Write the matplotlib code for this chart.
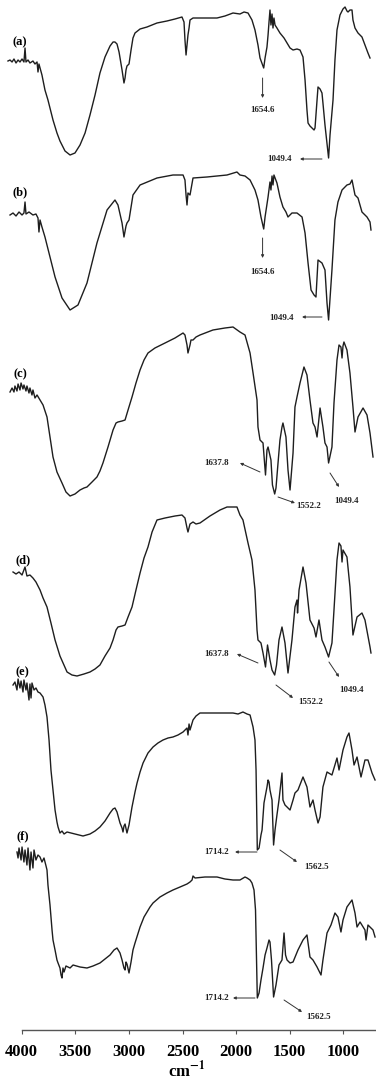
import numpy as np
import matplotlib.pyplot as plt

plt.rcParams['font.family'] = ['Liberation Serif', 'DejaVu Serif']
plt.rcParams['font.weight'] = 'bold'
plt.rcParams['mathtext.fontset'] = 'stix'

# FTIR spectra: wavenumber (cm-1) and transmittance (arbitrary units)
a_wn = [4040, 4021, 4002, 3984, 3965, 3946, 3928, 3909, 3891, 3881, 3872, 3853, 3835, 3807, 3788, 3769,
        3760, 3751, 3723, 3695, 3667, 3620, 3583, 3555, 3508, 3461, 3415, 3368, 3321, 3275, 3228, 3182,
        3135, 3088, 3060, 3042, 3023, 3004, 2976, 2958, 2948, 2939, 2930, 2911, 2892, 2874, 2855, 2808,
        2743, 2650, 2557, 2482, 2417, 2398, 2389, 2379, 2370, 2361, 2351, 2342, 2314, 2202, 2090, 2016,
        1941, 1876, 1838, 1801, 1764, 1736, 1708, 1689, 1654.6, 1642, 1624, 1614, 1605, 1596, 1587, 1577,
        1568, 1559, 1549, 1531, 1503, 1465, 1437, 1409, 1381, 1344, 1316, 1288, 1269, 1251, 1241, 1223,
        1204, 1185, 1176, 1157, 1148, 1129, 1111, 1102, 1083, 1049.4, 1036, 1008, 990, 971, 943, 915,
        896, 878, 868, 850, 831, 822, 803, 775, 738, 710, 682, 663]
a_t = [114, 115, 113, 116, 112, 115, 113, 116, 113, 127, 113, 115, 112, 114, 111, 113,
       103, 111, 100, 85, 75, 55, 42, 34, 24, 20, 22, 30, 42, 60, 80, 102,
       118, 129, 133, 133, 131, 123, 105, 92, 97, 105, 109, 111, 125, 137, 142, 146,
       148, 152, 154, 156, 158, 153, 135, 120, 130, 140, 147, 155, 157, 157, 157, 159,
       162, 161, 163, 162, 155, 145, 130, 117, 107, 117, 128, 140, 153, 165, 150, 161,
       147, 157, 150, 147, 142, 137, 132, 127, 125, 126, 125, 118, 95, 65, 52, 49,
       47, 45, 47, 75, 88, 86, 82, 72, 50, 17, 40, 75, 115, 145, 160, 166,
       168, 164, 163, 165, 165, 155, 147, 142, 138, 130, 122, 117]

b_wn = [4021, 3993, 3965, 3937, 3909, 3891, 3881, 3872, 3844, 3807, 3779, 3760, 3751, 3741, 3723, 3695,
        3648, 3601, 3536, 3461, 3387, 3303, 3210, 3116, 3042, 3014, 2976, 2958, 2939, 2930, 2911, 2874,
        2808, 2650, 2501, 2407, 2389, 2379, 2370, 2361, 2342, 2314, 2184, 1997, 1904, 1876, 1829, 1782,
        1736, 1708, 1680, 1654.6, 1642, 1614, 1596, 1587, 1577, 1568, 1559, 1531, 1503, 1475, 1447, 1428,
        1391, 1344, 1297, 1269, 1241, 1213, 1185, 1167, 1148, 1111, 1083, 1064, 1049.4, 1018, 990, 962,
        924, 878, 850, 831, 803, 775, 738, 691, 663, 654]
b_t = [115, 117, 114, 118, 115, 117, 128, 116, 118, 115, 116, 112, 98, 110, 103, 93,
       73, 53, 32, 20, 25, 47, 87, 120, 130, 125, 107, 93, 104, 107, 110, 135,
       145, 152, 155, 155, 150, 135, 125, 137, 135, 152, 153, 155, 158, 155, 154, 150,
       140, 130, 113, 101, 113, 133, 148, 140, 154, 145, 155, 147, 133, 123, 118, 113,
       117, 117, 113, 97, 67, 40, 35, 33, 70, 67, 60, 27, 10, 60, 110, 128,
       140, 145, 146, 150, 135, 132, 118, 113, 108, 100]

c_wn = [4021, 4002, 3984, 3975, 3956, 3946, 3928, 3918, 3900, 3891, 3872, 3863, 3844, 3835, 3816, 3807,
        3788, 3769, 3741, 3713, 3676, 3648, 3620, 3583, 3536, 3499, 3461, 3415, 3368, 3331, 3303, 3256,
        3210, 3182, 3154, 3107, 3060, 3032, 3014, 2976, 2948, 2920, 2883, 2846, 2808, 2771, 2734, 2669,
        2575, 2482, 2407, 2389, 2370, 2361, 2342, 2333, 2314, 2286, 2249, 2128, 2016, 1941, 1876, 1829,
        1782, 1754, 1717, 1708, 1689, 1661, 1637.8, 1624, 1614, 1587, 1573, 1552.2, 1540, 1521, 1503, 1484,
        1475, 1447, 1428, 1409, 1381, 1363, 1344, 1316, 1279, 1251, 1223, 1195, 1176, 1157, 1129, 1102,
        1083, 1064, 1049.4, 1018, 999, 971, 952, 934, 924, 915, 906, 878, 850, 822, 803, 775,
        728, 691, 663, 635]
c_t = [113, 117, 113, 119, 114, 121, 115, 122, 116, 120, 114, 119, 112, 117, 110, 115,
       107, 110, 105, 100, 88, 68, 48, 33, 22, 13, 9, 11, 15, 17, 18, 23,
       28, 34, 42, 58, 75, 82, 83, 84, 85, 95, 108, 122, 135, 145, 152, 157,
       162, 167, 172, 170, 160, 152, 160, 165, 165, 168, 170, 175, 177, 178, 173, 170,
       152, 132, 105, 78, 65, 62, 30, 55, 58, 45, 20, 11, 17, 42, 65, 78,
       82, 68, 35, 15, 52, 98, 108, 122, 138, 130, 105, 82, 78, 68, 97, 78,
       62, 58, 42, 58, 102, 145, 160, 158, 147, 159, 163, 155, 132, 98, 73, 88,
       97, 90, 72, 48]

d_wn = [3993, 3965, 3937, 3909, 3881, 3863, 3835, 3807, 3779, 3741, 3713, 3676, 3639, 3601, 3555, 3489,
        3443, 3396, 3331, 3275, 3228, 3182, 3135, 3088, 3060, 3032, 3014, 2976, 2948, 2920, 2883, 2846,
        2808, 2771, 2734, 2696, 2650, 2575, 2482, 2417, 2389, 2370, 2361, 2342, 2314, 2286, 2249, 2156,
        2062, 1997, 1904, 1876, 1848, 1801, 1764, 1736, 1717, 1708, 1680, 1661, 1637.8, 1619, 1596, 1577,
        1552.2, 1535, 1512, 1484, 1456, 1428, 1391, 1363, 1344, 1339, 1325, 1288, 1260, 1223, 1185, 1167,
        1139, 1111, 1083, 1049.4, 1018, 999, 971, 952, 934, 924, 915, 878, 850, 822, 784, 738,
        710, 663, 654]
d_t = [113, 111, 113, 110, 118, 109, 110, 107, 103, 95, 87, 78, 62, 45, 29, 13,
       10, 9, 11, 13, 16, 20, 29, 37, 45, 55, 58, 59, 60, 68, 78, 95,
       112, 127, 138, 153, 165, 167, 169, 170, 167, 157, 153, 161, 163, 161, 162, 169,
       175, 178, 178, 170, 165, 142, 125, 95, 55, 45, 42, 32, 18, 40, 25, 15,
       10, 20, 45, 58, 42, 12, 45, 78, 85, 72, 95, 118, 102, 65, 57, 48,
       65, 45, 38, 28, 42, 75, 125, 142, 139, 123, 135, 128, 98, 50, 68, 72,
       65, 38, 32]

e_wn = [3993, 3975, 3956, 3946, 3928, 3918, 3900, 3891, 3872, 3863, 3844, 3835, 3825, 3816, 3797, 3779,
        3760, 3741, 3713, 3695, 3676, 3657, 3639, 3620, 3601, 3583, 3573, 3555, 3536, 3517, 3489, 3415,
        3340, 3275, 3228, 3182, 3135, 3088, 3060, 3042, 3023, 2995, 2976, 2967, 2958, 2948, 2930, 2911,
        2883, 2855, 2836, 2808, 2780, 2734, 2687, 2641, 2594, 2547, 2501, 2454, 2407, 2370, 2361, 2351,
        2342, 2314, 2286, 2249, 2156, 2062, 1941, 1894, 1848, 1810, 1782, 1754, 1736, 1726, 1714.2, 1698,
        1680, 1670, 1652, 1624, 1614, 1605, 1596, 1577, 1562.5, 1549, 1531, 1512, 1484, 1475, 1456, 1437,
        1409, 1381, 1363, 1335, 1288, 1251, 1223, 1195, 1176, 1148, 1129, 1102, 1064, 1018, 971, 952,
        915, 878, 859, 831, 812, 784, 747, 710, 682, 644, 616]
e_t = [175, 178, 170, 181, 172, 179, 168, 180, 170, 177, 160, 176, 162, 177, 170, 172,
       168, 167, 163, 155, 143, 120, 90, 70, 50, 38, 33, 27, 29, 26, 28, 26,
       24, 26, 29, 33, 39, 47, 51, 52, 48, 37, 32, 28, 34, 36, 27, 35,
       53, 68, 77, 88, 97, 107, 113, 117, 120, 122, 123, 125, 128, 132, 125, 136,
       130, 140, 144, 147, 147, 147, 147, 146, 148, 146, 145, 133, 120, 90, 10, 12,
       25, 30, 57, 73, 80, 78, 70, 60, 15, 30, 45, 60, 87, 60, 55, 53,
       50, 60, 67, 70, 83, 73, 53, 60, 50, 37, 43, 73, 88, 85, 102, 90,
       110, 123, 127, 110, 95, 103, 83, 100, 100, 87, 80]

f_wn = [3956, 3946, 3937, 3918, 3909, 3891, 3881, 3863, 3853, 3835, 3825, 3807, 3797, 3779, 3760, 3741,
        3723, 3704, 3685, 3676, 3667, 3648, 3629, 3620, 3601, 3583, 3573, 3555, 3545, 3536, 3527, 3517,
        3499, 3461, 3433, 3368, 3303, 3247, 3182, 3135, 3088, 3051, 3023, 2995, 2976, 2958, 2948, 2939,
        2930, 2911, 2892, 2874, 2855, 2808, 2771, 2743, 2715, 2687, 2622, 2557, 2501, 2435, 2370, 2342,
        2323, 2314, 2295, 2202, 2090, 2016, 1941, 1876, 1829, 1810, 1782, 1764, 1745, 1731, 1714.2, 1698,
        1680, 1661, 1642, 1624, 1605, 1596, 1582, 1562.5, 1540, 1512, 1484, 1465, 1451, 1437, 1409, 1381,
        1335, 1288, 1251, 1223, 1195, 1157, 1120, 1102, 1064, 1027, 990, 962, 934, 915, 878, 831,
        803, 784, 756, 710, 700, 682, 635, 616]
f_t = [158, 152, 162, 150, 163, 148, 160, 145, 162, 140, 158, 142, 160, 150, 155, 153,
       148, 152, 144, 140, 125, 105, 80, 70, 60, 50, 47, 42, 35, 32, 42, 38,
       44, 42, 45, 43, 42, 44, 47, 51, 55, 60, 62, 57, 50, 42, 40, 48,
       46, 37, 48, 60, 67, 83, 93, 98, 103, 107, 113, 117, 120, 123, 126, 128,
       130, 134, 132, 133, 133, 131, 130, 130, 133, 132, 130, 127, 120, 100, 12, 17,
       30, 42, 55, 62, 70, 68, 50, 13, 25, 45, 50, 77, 55, 50, 47, 48,
       60, 70, 75, 53, 50, 43, 35, 50, 77, 85, 97, 93, 78, 90, 103, 110,
       97, 83, 88, 80, 70, 85, 80, 73]

sample_labels = ['(a)', '(b)', '(c)', '(d)', '(e)', '(f)']
peak_values = [[1654.6, 1049.4], [1654.6, 1049.4],
               [1637.8, 1552.2, 1049.4], [1637.8, 1552.2, 1049.4],
               [1714.2, 1562.5], [1714.2, 1562.5]]
wavenumbers = [a_wn, b_wn, c_wn, d_wn, e_wn, f_wn]
transmittance = [a_t, b_t, c_t, d_t, e_t, f_t]

# vertical stacking offsets and label placement
offsets = [175, 330, 505, 685, 860, 1010]
label_pos = [(3928, -42), (3928, -192), (3928, -374), (3900, -560), (3909, -672), (3900, -836)]
# (text x, text y, arrow start, arrow end) for every peak label
note_pos = [
    [((1665, -110), (1665, -78), (1665, -98)),
     ((1503, -159), (1111, -159), (1316, -159))],
    [((1665, -272), (1665, -238), (1665, -258)),
     ((1493, -318), (1111, -317), (1297, -317))],
    [((2090, -463), (1689, -472), (1876, -463)),
     ((1232, -506), (1521, -497), (1363, -503)),
     ((878, -501), (1036, -473), (952, -487))],
    [((2090, -654), (1708, -663), (1904, -654)),
     ((1213, -702), (1540, -685), (1381, -698)),
     ((831, -690), (1046, -662), (952, -677))],
    [((2090, -852), (1717, -852), (1922, -852)),
     ((1157, -867), (1503, -850), (1344, -862))],
    [((2090, -998), (1736, -998), (1941, -998)),
     ((1139, -1017), (1465, -1000), (1297, -1012))],
]

line_color = '#1e1e1e'

fig = plt.figure(figsize=(3.76, 10.79), dpi=100)

ax = fig.add_axes([0, 0, 1, 1])
ax.set_xlim(4114.4, 607.1)
ax.set_ylim(-1079, 0)
ax.axis('off')

for wn, t, off, lab, lpos, peaks, notes in zip(wavenumbers, transmittance, offsets,
                                                sample_labels, label_pos, peak_values, note_pos):
    ax.plot(wn, np.array(t) - off, color=line_color, lw=1.0)
    ax.text(lpos[0], lpos[1], lab, ha='center', va='center', fontsize=9, fontweight='bold')
    for val, (txt, start, end) in zip(peaks, notes):
        ax.annotate('', xy=end, xytext=start,
                    arrowprops=dict(arrowstyle='-|>', lw=0.7, color='#333333',
                                    mutation_scale=4, shrinkA=0, shrinkB=0))
        ax.text(txt[0], txt[1], f'{val:.1f}', ha='center', va='center',
                fontsize=6.5, fontweight='bold', color='#222222')

# wavenumber scale along the bottom
ax2 = fig.add_axes([0, 49 / 1079, 1, 0.001])
ax2.set_xlim(4202.4, 695.1)
ax2.patch.set_visible(False)
for side in ['left', 'right', 'top']:
    ax2.spines[side].set_visible(False)
ax2.spines['bottom'].set_bounds(4000, 695.1)
ax2.spines['bottom'].set_color('#555555')
ax2.spines['bottom'].set_linewidth(1.0)
ax2.set_yticks([])
ax2.set_xticks([4000, 3500, 3000, 2500, 2000, 1500, 1000])
ax2.tick_params(axis='x', direction='out', length=3, width=0.8, color='#555555',
                pad=7, labelsize=12)
for lbl in ax2.get_xticklabels():
    lbl.set_fontweight('bold')

fig.text(187 / 376, 1 - 1070 / 1079, r'cm$^{\mathbf{-1}}$', ha='center', va='center',
         fontsize=12, fontweight='bold')

fig.savefig('out.png', dpi=100)
